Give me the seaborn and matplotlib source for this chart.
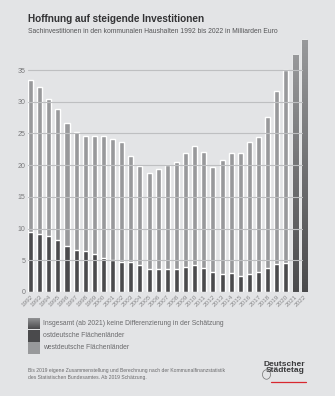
import numpy as np
import pandas as pd
import matplotlib
matplotlib.use("Agg")
import matplotlib.pyplot as plt
import seaborn as sns
from matplotlib.patches import Rectangle

years = [str(y) for y in range(1992, 2023)]
total = [33.5, 32.3, 30.4, 28.9, 26.7, 25.2, 24.65, 24.6, 24.65, 24.2, 23.7,
         21.45, 19.8, 18.7, 19.4, 20.0, 20.55, 21.9, 23.0, 22.1, 19.7, 20.8,
         22.0, 21.9, 23.7, 24.4, 27.6, 31.65, 35.0, 37.4, 39.7]
east = [9.4, 9.15, 8.8, 8.15, 7.25, 6.7, 6.5, 6.0, 5.4, 5.1, 4.8, 4.7, 4.3,
        3.7, 3.7, 3.7, 3.6, 3.9, 4.2, 3.8, 3.15, 2.85, 3.05, 2.6, 2.85, 3.15,
        3.8, 4.35, 4.5, np.nan, np.nan]
yticks = [0, 5, 10, 15, 20, 25, 30, 35]
legend_labels = ["Insgesamt (ab 2021) keine Differenzierung in der Schätzung",
                 "ostdeutsche Flächenländer",
                 "westdeutsche Flächenländer"]
title = "Hoffnung auf steigende Investitionen"
subtitle = "Sachinvestitionen in den kommunalen Haushalten 1992 bis 2022 in Milliarden Euro"
footnote = ("Bis 2019 eigene Zusammenstellung und Berechnung nach der Kommunalfinanzstatistik\n"
            "des Statistischen Bundesamtes. Ab 2019 Schätzung.")

BG = "#e3e4e6"
LIGHT = "#98999b"
DARK = "#4a4a4c"
TXT = "#6a6a6c"

sns.set_theme(style="white")
plt.rcParams['font.family'] = ['Liberation Sans Narrow', 'Liberation Sans', 'DejaVu Sans']

df = pd.DataFrame({"year": years, "total": total, "east": east})

fig = plt.figure(figsize=(3.35, 3.96), dpi=100, facecolor=BG)
ax = fig.add_axes([28/335, 104/396, (306.7-28)/335, (292-35.2)/396])
ax.set_facecolor(BG)

W = 0.55
sns.barplot(data=df, x="year", y="total", order=years, color=LIGHT, width=W,
            saturation=1, ax=ax, zorder=2)
n_total = len(ax.patches)
sns.barplot(data=df, x="year", y="east", order=years, color=DARK, width=W,
            saturation=1, ax=ax, zorder=2)

# gradient fill for bars without differentiation
grad = np.linspace(0, 1, 256).reshape(-1, 1)
cmap = matplotlib.colors.LinearSegmentedColormap.from_list("g", [DARK, LIGHT])
for i, p in enumerate(ax.patches[:n_total]):
    if np.isnan(east[i]):
        x0, y0 = p.get_x(), p.get_y()
        w, h = p.get_width(), p.get_height()
        im = ax.imshow(grad, extent=[x0, x0 + w, y0, y0 + h], origin="lower",
                       cmap=cmap, aspect="auto", zorder=2.5)
        im.set_clip_path(p)

ax.set_xlim(-W/2, len(years) - 1 + W/2)
ax.set_ylim(0, 40.5)
for t in yticks:
    ax.axhline(t, xmin=0, xmax=0.982, color="#bebfc1", lw=0.8, zorder=3)

ax.set_yticks(yticks)
ax.set_yticklabels([str(t) for t in yticks], fontsize=5, color="#7a7a7c")
ax.tick_params(axis="y", length=0, pad=2)
ax.tick_params(axis="x", length=0, pad=1.5)
ax.set_xticks(range(len(years)))
ax.set_xticklabels(years, fontsize=4.6, color="#8a8a8c", rotation=45, ha="right",
                   rotation_mode="anchor")
ax.set_xlabel("")
ax.set_ylabel("")
for s in ax.spines.values():
    s.set_visible(False)

fig.text(28/335, 1 - 14/396, title, fontsize=7.2, fontweight="bold",
         color="#333335", va="top", ha="left")
fig.text(28/335, 1 - 28/396, subtitle, fontsize=4.85, color="#555557",
         va="top", ha="left")

# legend
sq = 11.5
x_sq = 28
tops = [318, 330, 342]
for k, (lab, top) in enumerate(zip(legend_labels, tops)):
    ax_sq = fig.add_axes([x_sq/335, 1 - (top + sq)/396, sq/335, sq/396])
    ax_sq.set_axis_off()
    if k == 0:
        ax_sq.imshow(grad, extent=[0, 1, 0, 1], origin="lower", cmap=cmap, aspect="auto")
    else:
        ax_sq.add_patch(Rectangle((0, 0), 1, 1, color=DARK if k == 1 else LIGHT))
    ax_sq.set_xlim(0, 1); ax_sq.set_ylim(0, 1)
    fig.text(43/335, 1 - (top + sq/2)/396, lab, fontsize=4.9, color=TXT,
             va="center", ha="left")

fig.text(28/335, 1 - 368/396, footnote, fontsize=3.6, color="#6a6a6c",
         va="top", ha="left", linespacing=1.5)

# logo
fig.text(305/335, 1 - 361/396, "Deutscher\nStädtetag", fontsize=6, fontweight="bold",
         color="#3a3a3c", va="top", ha="right", linespacing=0.9)
fig.add_artist(plt.Line2D([271/335, 306/335], [1 - 381.5/396, 1 - 381.5/396],
                          color="#d8272f", lw=0.9))
fig.add_artist(matplotlib.patches.Circle((266.5/335, 1 - 374.5/396), 0.012,
                                         transform=fig.transFigure,
                                         fill=False, ec="#707070", lw=0.5))

fig.savefig("out.png", dpi=100, facecolor=BG)
